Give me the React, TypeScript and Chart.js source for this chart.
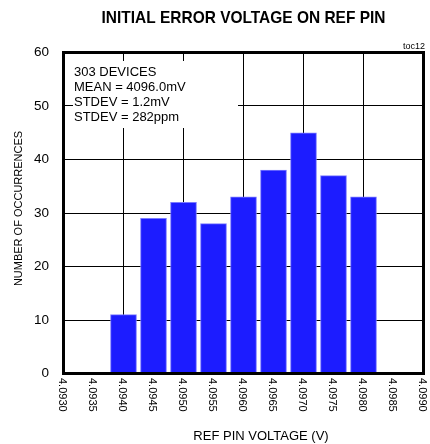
import React, { useEffect, useRef } from 'react';
import { Chart, registerables } from 'chart.js';

Chart.register(...registerables);

// ---- data ----
const xTickLabels = [
  '4.0930', '4.0935', '4.0940', '4.0945', '4.0950', '4.0955', '4.0960',
  '4.0965', '4.0970', '4.0975', '4.0980', '4.0985', '4.0990',
];
const deviceCounts = [0, 0, 11, 29, 32, 28, 33, 38, 45, 37, 33, 0, 0];
const yMin = 0;
const yMax = 60;
const yStep = 10;
const statsLines = ['303 DEVICES', 'MEAN = 4096.0mV', 'STDEV = 1.2mV', 'STDEV = 282ppm'];
const chartTitle = 'INITIAL ERROR VOLTAGE ON REF PIN';
const xTitle = 'REF PIN VOLTAGE (V)';
const yTitle = 'NUMBER OF OCCURRENCES';
const figureTag = 'toc12';

const FONT = '"Liberation Sans", Arial, Helvetica, sans-serif';

const decor = {
  id: 'decor',
  beforeDatasetsDraw(chart: any) {
    const { ctx, chartArea: a } = chart;
    ctx.save();
    ctx.fillStyle = '#ffffff';
    ctx.fillRect(a.left + 9.5, a.top + 8.5, 165, 67);
    ctx.fillStyle = '#000';
    ctx.font = `13px ${FONT}`;
    ctx.textAlign = 'left';
    ctx.textBaseline = 'middle';
    statsLines.forEach((t, i) => ctx.fillText(t, a.left + 10.5, a.top + 19.5 + i * 15.3));
    ctx.restore();
  },
  afterDraw(chart: any) {
    const { ctx, chartArea: a } = chart;
    const xs = chart.scales.x;
    ctx.save();
    // frame
    ctx.strokeStyle = '#000';
    ctx.lineWidth = 3;
    ctx.strokeRect(a.left, a.top, a.right - a.left, a.bottom - a.top);

    ctx.fillStyle = '#000';
    // x tick labels, rotated clockwise
    ctx.font = `11px ${FONT}`;
    ctx.textAlign = 'left';
    ctx.textBaseline = 'middle';
    xTickLabels.forEach((lab, i) => {
      const x = xs.getPixelForValue(i);
      ctx.save();
      ctx.translate(x - 1, a.bottom + 4.5);
      ctx.rotate(Math.PI / 2);
      ctx.fillText(lab, 0, 0);
      ctx.restore();
    });

    // title (slightly condensed bold face)
    ctx.save();
    ctx.font = `bold 17px ${FONT}`;
    ctx.textAlign = 'center';
    ctx.textBaseline = 'middle';
    ctx.translate((a.left + a.right) / 2, 18);
    ctx.scale(0.91, 1);
    ctx.fillText(chartTitle, 0, 0);
    ctx.restore();

    ctx.textAlign = 'center';
    ctx.textBaseline = 'middle';
    // x title
    ctx.font = `13px ${FONT}`;
    ctx.fillText(xTitle, 261, 436.5);

    // y title
    ctx.save();
    ctx.font = `11px ${FONT}`;
    ctx.translate(18.5, 208.5);
    ctx.rotate(-Math.PI / 2);
    ctx.fillText(yTitle, 0, 0);
    ctx.restore();

    // tag
    ctx.font = `9px ${FONT}`;
    ctx.textAlign = 'right';
    ctx.fillText(figureTag, a.right + 1.5, a.top - 6);
    ctx.restore();
  },
};

export default function App() {
  const ref = useRef<HTMLCanvasElement>(null);
  useEffect(() => {
    if (!ref.current) return;
    const chart = new Chart(ref.current, {
      type: 'bar',
      data: {
        labels: xTickLabels,
        datasets: [
          {
            data: deviceCounts,
            backgroundColor: '#1c1cff',
            borderColor: '#7a7aff',
            borderWidth: (c: any) => (c.raw ? 1 : 0),
            barThickness: 26,
          },
        ],
      },
      options: {
        responsive: false,
        animation: false,
        events: [],
        layout: { padding: { top: 52.5, right: 6.5, left: 0, bottom: 0 } },
        plugins: { legend: { display: false }, tooltip: { enabled: false }, title: { display: false } },
        scales: {
          x: {
            type: 'category',
            offset: false,
            grid: {
              offset: false,
              drawTicks: false,
              lineWidth: 1,
              color: (c: any) =>
                c.index % 2 === 0 && c.index > 0 && c.index < xTickLabels.length - 1 ? '#000' : 'rgba(0,0,0,0)',
            },
            border: { display: false },
            ticks: { display: false, autoSkip: false },
            afterFit: (s: any) => {
              s.height = 70.5;
            },
          },
          y: {
            min: yMin,
            max: yMax,
            ticks: {
              stepSize: yStep,
              color: '#000',
              padding: 14.5,
              font: { family: FONT, size: 13.5 },
            },
            grid: { color: '#000', lineWidth: 1, drawTicks: false },
            border: { display: false },
            afterFit: (s: any) => {
              s.width = 63.5;
            },
          },
        },
      },
      plugins: [decor],
    } as any);
    return () => chart.destroy();
  }, []);
  return (
    <div style={{ position: 'absolute', left: 0, top: 0, width: 430, height: 444 }}>
      <canvas ref={ref} width={430} height={444} style={{ display: 'block' }} />
    </div>
  );
}
